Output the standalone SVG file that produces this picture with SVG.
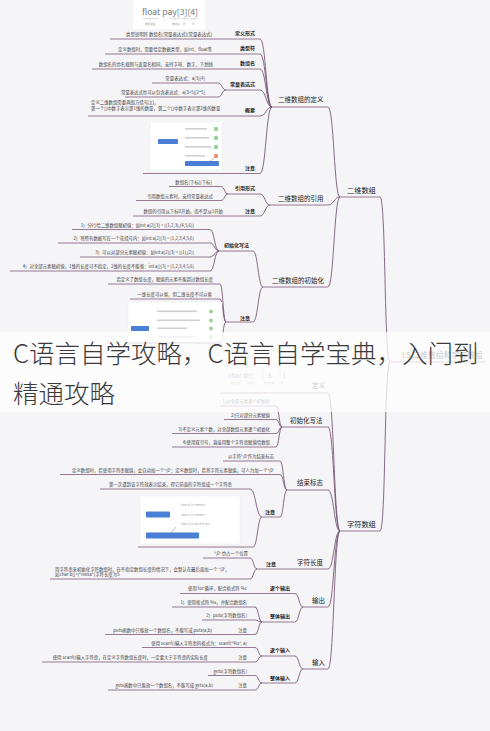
<svg xmlns="http://www.w3.org/2000/svg" width="490" height="731" viewBox="0 0 490 731">
<style>
text{font-family:"Noto Sans CJK SC","Noto Sans",sans-serif}
.lf{font-size:4.4px;fill:#404040}
.b{font-size:5px;font-weight:bold;fill:#1e1e1e}
.l2{font-size:6.5px;fill:#222}
.l1{font-size:7.2px;fill:#1a1a1a}
.u{stroke:#7b5c79;stroke-width:0.8;fill:none}
.c path{stroke:#6a4868;stroke-width:0.8;fill:none}
.shot{fill:#fff;stroke:#e4e4e8;stroke-width:0.4}
.btn{fill:#4a7fd6}
.row{fill:#cfcfd4}
.ok{fill:#93d393}
.tiny{font-size:2.6px;fill:#999}
.title{font-size:25.5px;fill:#3a3a3a;font-weight:300}
</style>
<rect width="490" height="731" fill="#f5f4f7"/>

<g id="connectors" class="c">
<path d="M260,39C266,39 266,107 272,107"/>
<path d="M260,54C266,54 266,107 272,107"/>
<path d="M260,69C266,69 266,107 272,107"/>
<path d="M260,90C266,90 266,107 272,107"/>
<path d="M260,116C266,116 266,107 272,107"/>
<path d="M260,173.5C266,173.5 266,107 272,107"/>
<path d="M218,83C222,83 222,90 226,90"/>
<path d="M218,97C222,97 222,90 226,90"/>
<path d="M328,107C334,107 334,197 340,197"/>
<path d="M328,205C334,205 334,197 340,197"/>
<path d="M328,287C334,287 334,197 340,197"/>
<path d="M260,194C265,194 265,205 270,205"/>
<path d="M260,216C265,216 265,205 270,205"/>
<path d="M221,186.5C224.5,186.5 224.5,194 228,194"/>
<path d="M221,200.5C224.5,200.5 224.5,194 228,194"/>
<path d="M253,251C258,251 258,287 263,287"/>
<path d="M253,322C258,322 258,287 263,287"/>
<path d="M210,229.5C214.5,229.5 214.5,251 219,251"/>
<path d="M210,243C214.5,243 214.5,251 219,251"/>
<path d="M210,257C214.5,257 214.5,251 219,251"/>
<path d="M210,271C214.5,271 214.5,251 219,251"/>
<path d="M220,284C223,284 223,322 226,322"/>
<path d="M220,299C223,299 223,322 226,322"/>
<path d="M220,343C223,343 223,322 226,322"/>
<path d="M380,197C386,197 384,362 390,362"/>
<path d="M380,531C386,531 384,362 390,362"/>
<path d="M328,393C334,393 334,531 340,531"/>
<path d="M328,427C334,427 334,531 340,531"/>
<path d="M328,490C334,490 334,531 340,531"/>
<path d="M328,569C334,569 334,531 340,531"/>
<path d="M328,607C334,607 334,531 340,531"/>
<path d="M328,669C334,669 334,531 340,531"/>
<path d="M276,406C279,406 279,427 282,427"/>
<path d="M276,419.5C279,419.5 279,427 282,427"/>
<path d="M276,433.5C279,433.5 279,427 282,427"/>
<path d="M276,447C279,447 279,427 282,427"/>
<path d="M280,461C283.5,461 283.5,490 287,490"/>
<path d="M280,474.5C283.5,474.5 283.5,490 287,490"/>
<path d="M280,517C283.5,517 283.5,490 287,490"/>
<path d="M250,489C256,489 256,517 262,517"/>
<path d="M253,547C257.5,547 257.5,517 262,517"/>
<path d="M250,558C253.5,558 253.5,569 257,569"/>
<path d="M250,579C253.5,579 253.5,569 257,569"/>
<path d="M295,593.5C299,593.5 299,607 303,607"/>
<path d="M295,622C299,622 299,607 303,607"/>
<path d="M255,607C258.5,607 258.5,622 262,622"/>
<path d="M255,620C258.5,620 258.5,622 262,622"/>
<path d="M255,634.5C258.5,634.5 258.5,622 262,622"/>
<path d="M295,656C299,656 299,669 303,669"/>
<path d="M295,683C299,683 299,669 303,669"/>
<path d="M255,647.5C258.5,647.5 258.5,656 262,656"/>
<path d="M255,662C258.5,662 258.5,656 262,656"/>
<path d="M255,675.5C258.5,675.5 258.5,683 262,683"/>
<path d="M255,690C258.5,690 258.5,683 262,683"/>
</g>

<g id="img-float">
<rect x="133" y="0" width="72" height="29" fill="#fff"/>
<text x="142" y="15" font-family="Liberation Mono,monospace" font-size="7.5" fill="#777" textLength="56" lengthAdjust="spacingAndGlyphs">float pay[3][4]</text>
<path d="M143,18.5h15M169,18.5h12M182,18.5h7M190,18.5h8" stroke="#bbb" stroke-width="0.5"/>
<path d="M150,19v2M175,19v2M185,19v2M194,19v2" stroke="#bbb" stroke-width="0.4"/>
<text class="tiny" x="145" y="25">数据类型</text>
<text class="tiny" x="172" y="25" fill="#d9a640">数组名</text>
<text class="tiny" x="183" y="25" fill="#8cc56e">行</text>
<text class="tiny" x="192" y="25" fill="#5bb0b8">列</text>
</g>

<g id="n-def-form"><text class="lf" x="212" y="35.5" text-anchor="end">类型说明符 数组名[常量表达式][常量表达式]</text><text class="b" x="255" y="35" text-anchor="end">定义形式</text><path class="u" d="M110,39H260"/></g>
<g id="n-type"><text class="lf" x="212" y="50.5" text-anchor="end">定义数组时，需要给定数据类型，如int、float等</text><text class="b" x="255" y="50" text-anchor="end">类型符</text><path class="u" d="M105,54H260"/></g>
<g id="n-name"><text class="lf" x="213" y="65.5" text-anchor="end">数组名的命名规则与变量名相同，支持字母、数字、下划线</text><text class="b" x="255" y="65" text-anchor="end">数组名</text><path class="u" d="M92,69H260"/></g>
<g id="n-const"><text class="b" x="255" y="86" text-anchor="end">常量表达式</text><path class="u" d="M226,90H260"/></g>
<g id="n-const-1"><text class="lf" x="205" y="80" text-anchor="end">常量表达式：a[3][4]</text><path class="u" d="M152,83H218"/></g>
<g id="n-const-2"><text class="lf" x="205" y="94" text-anchor="end">常量表达式也可以包含表达式：a[3+5][2*5]</text><path class="u" d="M125,97H218"/></g>
<g id="n-summary"><text class="b" x="255" y="112" text-anchor="end">概要</text><text class="lf" x="91" y="104">定义二维数组需要两组方括号[][]，</text><text class="lf" x="91" y="110">第一个[]中数字表示第1维的数量，第二个[]中数字表示第2维的数量</text><path class="u" d="M88,116H260"/></g>
<g id="n-def-note"><text class="b" x="255" y="170" text-anchor="end">注意</text><path class="u" d="M143,173.5H260"/>
<rect class="shot" x="150" y="122" width="72" height="48"/>
<rect class="btn" x="158" y="139" width="20" height="5" rx="0.8"/>
<rect class="row" x="185" y="128" width="22" height="1.6"/><rect class="row" x="185" y="137" width="24" height="1.6"/><rect class="row" x="185" y="146" width="26" height="1.6"/><rect class="row" x="185" y="155" width="20" height="1.6"/>
<circle class="ok" cx="216" cy="129" r="2.2"/><circle class="ok" cx="216" cy="138" r="2.2"/><circle class="ok" cx="216" cy="147" r="2.2"/><circle cx="216" cy="156" r="2.2" fill="#e8916e"/>
<path d="M214,158L209,162" stroke="#555" stroke-width="0.4"/>
<rect class="btn" x="185" y="161" width="34" height="5" rx="0.8"/></g>
<g id="n-2d-def"><text class="l2" x="278" y="102.3">二维数组的定义</text><path class="u" d="M272,107H328"/></g>
<g id="n-2d"><text class="l1" x="347" y="192.6">二维数组</text><path class="u" d="M340,197H380"/></g>

<g id="n-2d-ref"><text class="l2" x="278" y="201.3">二维数组的引用</text><path class="u" d="M270,205H328"/></g>
<g id="n-ref-form"><text class="b" x="255" y="190" text-anchor="end">引用形式</text><path class="u" d="M228,194H260"/></g>
<g id="n-ref-1"><text class="lf" x="212" y="184" text-anchor="end">数组名[下标][下标]</text><path class="u" d="M169,186.5H221"/></g>
<g id="n-ref-2"><text class="lf" x="213" y="198" text-anchor="end">引用数组元素时，支持常量表达式</text><path class="u" d="M136,200.5H221"/></g>
<g id="n-ref-note"><text class="b" x="255" y="213" text-anchor="end">注意</text><text class="lf" x="223" y="213" text-anchor="end">数组的引用从下标0开始，而不是从1开始</text><path class="u" d="M133,216H260"/></g>

<g id="n-2d-init"><text class="l2" x="272" y="283.3">二维数组的初始化</text><path class="u" d="M263,287H328"/></g>
<g id="n-init-way"><text class="b" x="249" y="247" text-anchor="end">初始化写法</text><path class="u" d="M219,251H253"/></g>
<g id="n-iw-1"><text class="lf" x="194" y="226.6" text-anchor="end">1）分行给二维数组赋初值：如int a[2][3] = {{1,2,3},{4,5,6}}</text><path class="u" d="M72,229.5H210"/></g>
<g id="n-iw-2"><text class="lf" x="194" y="240" text-anchor="end">2）将所有数据写在一个花括号内：如int a[2][3] = {1,2,3,4,5,6}</text><path class="u" d="M58,243H210"/></g>
<g id="n-iw-3"><text class="lf" x="194" y="254" text-anchor="end">3）可以对部分元素赋初值：如int a[2][3] = {{1},{2}}</text><path class="u" d="M80,257H210"/></g>
<g id="n-iw-4"><text class="lf" x="194" y="268" text-anchor="end">4）对全部元素赋初值，1维的长度可不指定，2维的长度不能省：int a[][3] = {1,2,3,4,5,6}</text><path class="u" d="M10,271H210"/></g>
<g id="n-init-note"><text class="b" x="250" y="320" text-anchor="end">注意</text><path class="u" d="M226,322H253"/></g>
<g id="n-in-1"><text class="lf" x="213" y="281" text-anchor="end">若定义了数组长度，赋值的元素不能超过数组长度</text><path class="u" d="M108,284H220"/></g>
<g id="n-in-2"><text class="lf" x="212" y="296" text-anchor="end">一维长度可以省，但二维长度不可以省</text><path class="u" d="M130,299H220"/></g>
<g id="n-in-3"><rect class="shot" x="128" y="302" width="94" height="40"/>
<rect class="btn" x="131" y="326" width="18" height="5" rx="0.8"/>
<rect class="row" x="157" y="310.5" width="40" height="1.6"/><rect class="row" x="157" y="319.5" width="43" height="1.6"/><rect class="row" x="157" y="327.5" width="30" height="1.6"/><rect class="row" x="157" y="336" width="38" height="1.6"/>
<circle class="ok" cx="211" cy="311.5" r="2"/><circle class="ok" cx="211" cy="320.5" r="2"/><circle class="ok" cx="211" cy="328.5" r="2"/><circle class="ok" cx="211" cy="337" r="2"/>
<path class="u" d="M126,343H220"/></g>

<g id="n-root"><text x="402" y="357.5" font-size="7.8" fill="#222">L5 二维数组和字符数组</text><path class="u" d="M390,362H486"/></g>

<g id="n-c-def"><text class="l2" x="312" y="388.3">定义</text><path class="u" d="M220,393H328"/>
<text x="228" y="378" font-family="Liberation Mono,monospace" font-size="6.5" fill="#777">char str[</text><text x="268" y="378" font-family="Liberation Mono,monospace" font-size="6.5" fill="#777">5</text><text x="283" y="378" font-family="Liberation Mono,monospace" font-size="6.5" fill="#777">]</text>
<path d="M263,369v10M280,369v10" stroke="#aaa" stroke-width="0.5"/>
<text class="tiny" x="230" y="384">数据类型</text><text class="tiny" x="247" y="384">数组名</text><text class="tiny" x="264" y="384">数组长度</text><text class="tiny" x="281" y="384">符</text></g>
<g id="n-char"><text class="l1" x="347" y="526.6">字符数组</text><path class="u" d="M340,531H380"/></g>

<g id="n-c-init"><text class="l2" x="290" y="423.3">初始化写法</text><path class="u" d="M282,427H328"/></g>
<g id="n-ci-1"><text class="lf" x="270" y="402.6" text-anchor="end">1)对全部元素逐个初始化</text><path class="u" d="M220,406H276"/></g>
<g id="n-ci-2"><text class="lf" x="270" y="416.6" text-anchor="end">2)只对部分元素赋值</text><path class="u" d="M224,419.5H276"/></g>
<g id="n-ci-3"><text class="lf" x="270" y="430.6" text-anchor="end">3)不定义元素个数，对全部数组元素逐个初始化</text><path class="u" d="M172,433.5H276"/></g>
<g id="n-ci-4"><text class="lf" x="270" y="444" text-anchor="end">4)使用双引号，直接用整个字符串赋值给数组</text><path class="u" d="M172,447H276"/></g>

<g id="n-c-end"><text class="l2" x="297" y="485.3">结束标志</text><path class="u" d="M287,490H328"/></g>
<g id="n-ce-1"><text class="lf" x="274" y="458" text-anchor="end">以字符'\0'作为结束标志</text><path class="u" d="M223,461H280"/></g>
<g id="n-ce-2"><text class="lf" x="274" y="471.6" text-anchor="end">定义数组时，若使用字符串赋值，会自动加一个'\0'；定义数组时，若将字符元素赋值，可人为加一个'\0'</text><path class="u" d="M60,474.5H280"/></g>
<g id="n-ce-note"><text class="b" x="265" y="514">注意</text><path class="u" d="M262,517H280"/></g>
<g id="n-cen-1"><text class="lf" x="232" y="486" text-anchor="end">第一次遇到该字符就表示结束，得它前面的字符组成一个字符串</text><path class="u" d="M100,489H250"/></g>
<g id="n-cen-2"><rect class="shot" x="140" y="496" width="100" height="48"/>
<rect class="btn" x="146" y="511.5" width="24" height="6" rx="0.8"/>
<rect class="btn" x="146" y="532.5" width="53" height="6" rx="0.8"/>
<text x="181" y="506" font-family="Liberation Mono,monospace" font-size="3" fill="#999">char c[]={"meta"};</text>
<text x="181" y="515.5" font-family="Liberation Mono,monospace" font-size="3" fill="#999">char c[]={"meta"};</text>
<text x="181" y="525" font-family="Liberation Mono,monospace" font-size="3" fill="#999">char c[]={'m','e','t','a'};</text>
<path d="M176,527L171,533" stroke="#555" stroke-width="0.4"/>
<path class="u" d="M138,547H253"/></g>

<g id="n-c-len"><text class="l2" x="297" y="565.3">字符长度</text><path class="u" d="M290,569H328"/></g>
<g id="n-cl-note"><text class="b" x="266" y="566">注意</text><path class="u" d="M257,569H290"/></g>
<g id="n-cl-1"><text class="lf" x="248" y="555" text-anchor="end">'\0' 也占一个位置</text><path class="u" d="M203,558H250"/></g>
<g id="n-cl-2"><text class="lf" x="55" y="570.6">用字符串来初始化字符数组时，在不指定数组长度的情况下，会默认在最后面加一个 '\0'，</text><text class="lf" x="55" y="576.3">如char b[]={"meta"}字符长度为5</text><path class="u" d="M50,579H250"/></g>

<g id="n-c-out"><text class="l2" x="312" y="603.3">输出</text><path class="u" d="M303,607H328"/></g>
<g id="n-out-1"><text class="b" x="270" y="590">逐个输出</text><text class="lf" x="247" y="590" text-anchor="end">使用 for 循环，配合格式符 %c</text><path class="u" d="M180,593.5H295"/></g>
<g id="n-out-2"><text class="b" x="270" y="618">整体输出</text><path class="u" d="M262,622H295"/></g>
<g id="n-o2-1"><text class="lf" x="247" y="604" text-anchor="end">1）使用格式符 %s，并配合数组名</text><path class="u" d="M172,607H255"/></g>
<g id="n-o2-2"><text class="lf" x="247" y="617" text-anchor="end">2）puts(字符数组名)</text><path class="u" d="M202,620H255"/></g>
<g id="n-o2-3"><text class="lf" x="247" y="632" text-anchor="end">注意</text><text class="lf" x="212" y="632" text-anchor="end">puts函数中只能放一个数组名，不能写成 puts(a,b)</text><path class="u" d="M105,634.5H255"/></g>

<g id="n-c-in"><text class="l2" x="312" y="665.3">输入</text><path class="u" d="M303,669H328"/></g>
<g id="n-in-one"><text class="b" x="270" y="652">逐个输入</text><path class="u" d="M262,656H295"/></g>
<g id="n-ino-1"><text class="lf" x="247" y="645" text-anchor="end">使用 scanf()输入字符串的格式为：scanf("%s", a)</text><path class="u" d="M142,647.5H255"/></g>
<g id="n-ino-2"><text class="lf" x="247" y="659" text-anchor="end">注意</text><text class="lf" x="208" y="659" text-anchor="end">使用 scanf()输入字符串，在定义字符数组长度时，一定要大于字符串的实际长度</text><path class="u" d="M42,662H255"/></g>
<g id="n-in-all"><text class="b" x="270" y="680">整体输入</text><path class="u" d="M262,683H295"/></g>
<g id="n-ina-1"><text class="lf" x="247" y="673" text-anchor="end">gets(字符数组名)</text><path class="u" d="M208,675.5H255"/></g>
<g id="n-ina-2"><text class="lf" x="247" y="687" text-anchor="end">注意</text><text class="lf" x="213" y="687" text-anchor="end">gets函数中只能放一个数组名，不能写成 gets(a,b)</text><path class="u" d="M108,690H255"/></g>

<g id="title-band">
<rect x="0" y="332" width="490" height="80" fill="#fff" opacity="0.75"/>
<text class="title" x="13" y="363">C语言自学攻略，C语言自学宝典，入门到</text>
<text class="title" x="13" y="403">精通攻略</text>
</g>
</svg>
